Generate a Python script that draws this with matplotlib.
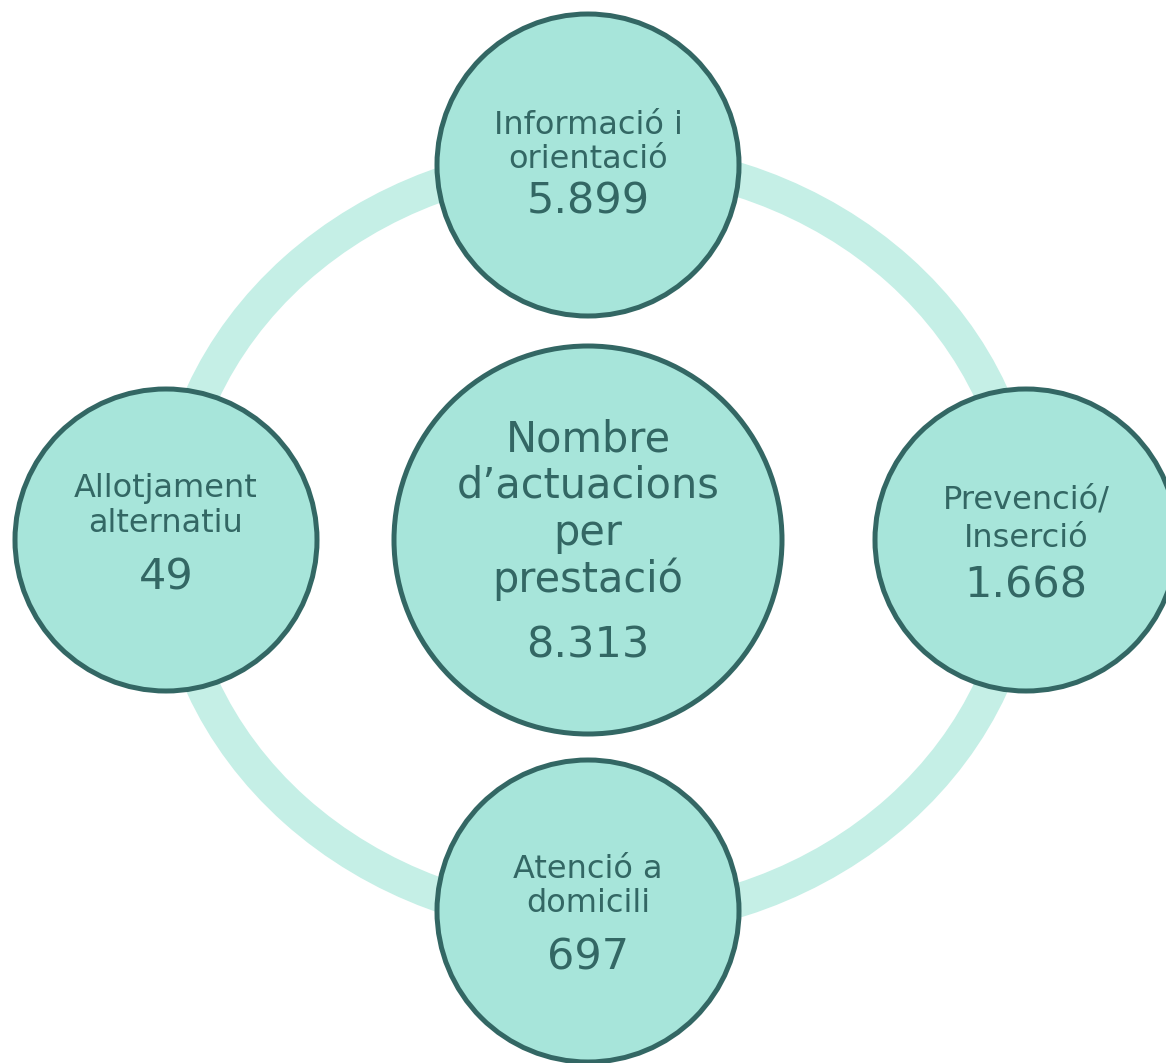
import matplotlib
matplotlib.use("Agg")
import matplotlib.pyplot as plt
from matplotlib.patches import Circle, Ellipse

# ---- data ----
center_title = ["Nombre", "d\u2019actuacions", "per", "prestació"]
center_value = "8.313"
categories = [["Informació i", "orientació"],
              ["Prevenció/", "Inserció"],
              ["Atenció a", "domicili"],
              ["Allotjament", "alternatiu"]]
values = ["5.899", "1.668", "697", "49"]

# ---- style ----
W, H = 1166, 1063
DPI = 100
ring_color = "#C5EFE6"
fill_color = "#A7E5DA"
edge_color = "#336764"
text_color = "#336764"
px = 72.0 / DPI  # points per pixel

plt.rcParams['font.family'] = ['DejaVu Sans']
fig = plt.figure(figsize=(W / DPI, H / DPI), dpi=DPI)
ax = fig.add_axes([0, 0, 1, 1])
ax.set_xlim(0, W)
ax.set_ylim(H, 0)
ax.set_aspect('equal')
ax.axis('off')

# ring
ax.add_patch(Ellipse((597, 540), 2 * 427, 2 * 382, fill=False,
                     edgecolor=ring_color, linewidth=34 * px, zorder=1))

# node layout: (cx, cy, label baselines, value baseline)
nodes = [
    (588, 165, [134, 168], 213),
    (1026, 540, [508, 547], 597),
    (588, 911, [878, 912], 970),
    (166, 540, [497, 532], 590),
]
small_r = 151
lab_fs = 32 * px
val_fs = 43 * px

for (cx, cy, lab_y, val_y), labs, val in zip(nodes, categories, values):
    ax.add_patch(Circle((cx, cy), small_r, facecolor=fill_color,
                        edgecolor=edge_color, linewidth=5 * px, zorder=2))
    for t, y in zip(labs, lab_y):
        ax.text(cx, y, t, ha='center', va='baseline', fontsize=lab_fs,
                color=text_color, zorder=3)
    ax.text(cx, val_y, val, ha='center', va='baseline', fontsize=val_fs,
            color=text_color, zorder=3)

# center node
ax.add_patch(Circle((588, 540), 194, facecolor=fill_color,
                    edgecolor=edge_color, linewidth=5 * px, zorder=2))
for t, y in zip(center_title, [452, 498, 545, 592]):
    ax.text(588, y, t, ha='center', va='baseline', fontsize=41.5 * px,
            color=text_color, zorder=3)
ax.text(588, 657, center_value, ha='center', va='baseline', fontsize=43 * px,
        color=text_color, zorder=3)

fig.savefig("out.png", dpi=DPI, facecolor="white")
